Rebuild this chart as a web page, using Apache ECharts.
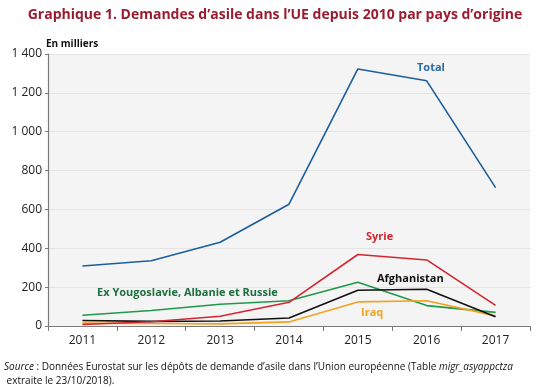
<!DOCTYPE html>
<html>
<head>
<meta charset="utf-8">
<script src="https://cdn.jsdelivr.net/npm/echarts@6/dist/echarts.min.js"></script>
<style>html,body{margin:0;padding:0;background:#fff}#c{width:550px;height:387px}</style>
</head>
<body>
<div id="c"></div>
<script>
const years = ['2011','2012','2013','2014','2015','2016','2017'];
const total = [309, 336, 431, 627, 1323, 1262, 712];
const syrie = [8, 22, 50, 122, 368, 340, 106];
const exYougo = [55, 80, 112, 130, 225, 105, 70];
const afghanistan = [28, 24, 26, 41, 184, 189, 48];
const iraq = [15, 13, 11, 21, 124, 130, 52];
const yTicks = [0, 200, 400, 600, 800, 1000, 1200, 1400];

const FONT = '"Open Sans", "Noto Sans", sans-serif';
const chart = echarts.init(document.getElementById('c'));
function line(name, data, color) {
  return { name, type: 'line', data, symbol: 'none', smooth: false,
    lineStyle: { color, width: 1.6 }, itemStyle: { color }, animation: false };
}
chart.setOption({
  animation: false,
  title: {
    text: 'Graphique 1. Demandes d\u2019asile dans l\u2019UE depuis 2010 par pays d\u2019origine',
    left: 'center', top: 3,
    textStyle: { color: '#9b1c2e', fontSize: 14, fontWeight: 'bold', fontFamily: FONT }
  },
  grid: { left: 48, right: 20, top: 54, bottom: 61, show: true, backgroundColor: '#f4f4f4', borderWidth: 0 },
  xAxis: {
    type: 'category', data: years, boundaryGap: true,
    axisLine: { lineStyle: { color: '#7a7a7a', width: 1.2 } },
    axisTick: { show: true, length: 5, lineStyle: { color: '#7a7a7a' } },
    axisLabel: { color: '#222', fontSize: 12, fontFamily: FONT, margin: 9 }
  },
  yAxis: {
    type: 'value', min: 0, max: 1400, interval: 200,
    axisLine: { show: true, lineStyle: { color: '#7a7a7a', width: 1.2 } },
    axisTick: { show: true, length: 3, lineStyle: { color: '#7a7a7a' } },
    splitLine: { lineStyle: { color: '#e4e4e4', width: 1 } },
    axisLabel: { color: '#222', fontSize: 12, fontFamily: FONT, margin: 6,
      formatter: v => String(yTicks[yTicks.indexOf(v)]).replace(/\B(?=(\d{3})+(?!\d))/g, ' ') }
  },
  series: [
    line('Ex Yougoslavie, Albanie et Russie', exYougo, '#1f9a4a'),
    line('Iraq', iraq, '#f4a21f'),
    line('Afghanistan', afghanistan, '#111111'),
    line('Syrie', syrie, '#d32630'),
    line('Total', total, '#1d5e9c')
  ],
  graphic: [
    { type: 'text', left: 46, top: 39, style: { text: 'En milliers', fill: '#111', font: 'bold 10px ' + FONT } },
    { type: 'text', left: 417, top: 62, style: { text: 'Total', fill: '#2b6aa6', font: 'bold 11px ' + FONT } },
    { type: 'text', left: 366, top: 231, style: { text: 'Syrie', fill: '#d32630', font: 'bold 11px ' + FONT } },
    { type: 'text', left: 377, top: 273, style: { text: 'Afghanistan', fill: '#111', font: 'bold 11px ' + FONT } },
    { type: 'text', left: 97, top: 287, style: { text: 'Ex Yougoslavie, Albanie et Russie', fill: '#1d7040', font: 'bold 11px ' + FONT } },
    { type: 'text', left: 361, top: 307, style: { text: 'Iraq', fill: '#f4a21f', font: 'bold 11px ' + FONT } },
    { type: 'text', left: 4, top: 360, style: {
        text: '{i|Source} : Donn\u00e9es Eurostat sur les d\u00e9p\u00f4ts de demande d\u2019asile dans l\u2019Union europ\u00e9enne (Table {i|migr_asyappctza}\n extraite le 23/10/2018).',
        fill: '#111', font: '10px ' + FONT, lineHeight: 14,
        rich: { i: { fontStyle: 'italic', fontSize: 10, fontFamily: FONT, fill: '#111' } } } }
  ]
});
</script>
</body>
</html>
